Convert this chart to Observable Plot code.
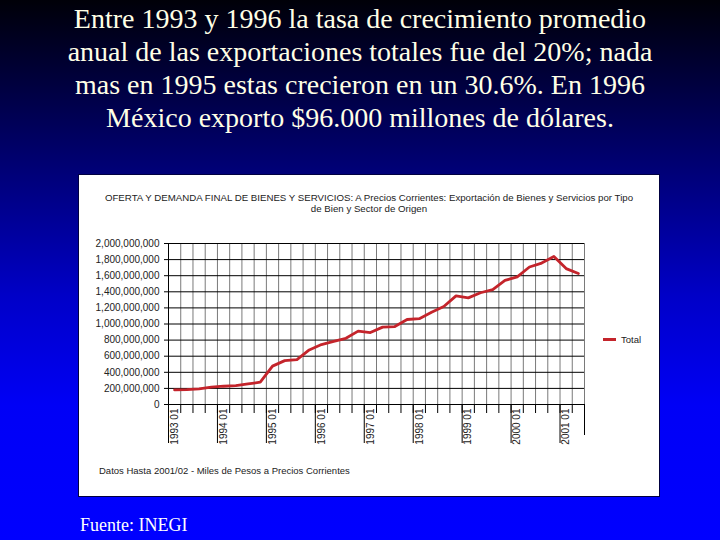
<!DOCTYPE html>
<html>
<head>
<meta charset="utf-8">
<script src="https://cdn.jsdelivr.net/npm/d3@7"></script>
<script src="https://cdn.jsdelivr.net/npm/@observablehq/plot@0.6"></script>
<style>
  html, body { margin: 0; padding: 0; }
  body {
    width: 720px; height: 540px; overflow: hidden; position: relative;
    background: linear-gradient(to bottom, #000008 0%, #00006a 28%, #0000c8 55%, #0000f6 75%, #0000ff 100%);
  }
  #title {
    position: absolute; left: 0; top: 2px; width: 720px; text-align: center;
    font-family: "Liberation Serif", "Times New Roman", serif; font-size: 28px; line-height: 33px;
    color: #ffffe6;
  }
  #box {
    position: absolute; left: 78px; top: 174px; width: 580px; height: 321px;
    background: #fff; border: 1px solid #000040;
  }
  .small { font-family: "Liberation Sans", Arial, sans-serif; color: #222; position: absolute; }
  #ctitle { left: 78px; width: 582px; top: 192px; text-align: center; font-size: 9.7px; line-height: 11px; }
  #note { left: 99px; top: 465px; font-size: 9.5px; }
  #legend { left: 603px; top: 334px; font-size: 9.5px; display: flex; align-items: center; }
  #legend span.sw { display: inline-block; width: 13px; height: 2.5px; background: #c4242b; margin-right: 5px; }
  #chart { position: absolute; left: 78px; top: 230px; }
  #fuente {
    position: absolute; left: 80px; top: 515px;
    font-family: "Liberation Serif", "Times New Roman", serif; font-size: 18px; color: #fff;
  }
</style>
</head>
<body>
<div id="title">Entre 1993 y 1996 la tasa de crecimiento promedio<br>anual de las exportaciones totales fue del 20%; nada<br>mas en 1995 estas crecieron en un 30.6%. En 1996<br>México exporto $96.000 millones de dólares.</div>
<div id="box"></div>
<div id="ctitle" class="small">OFERTA Y DEMANDA FINAL DE BIENES Y SERVICIOS: A Precios Corrientes: Exportación de Bienes y Servicios por Tipo<br>de Bien y Sector de Origen</div>
<div id="chart"></div>
<div id="legend" class="small"><span class="sw"></span>Total</div>
<div id="note" class="small">Datos Hasta 2001/02 - Miles de Pesos a Precios Corrientes</div>
<div id="fuente">Fuente: INEGI</div>
<script>
const periods = [
  "1993 01","1993 02","1993 03","1993 04",
  "1994 01","1994 02","1994 03","1994 04",
  "1995 01","1995 02","1995 03","1995 04",
  "1996 01","1996 02","1996 03","1996 04",
  "1997 01","1997 02","1997 03","1997 04",
  "1998 01","1998 02","1998 03","1998 04",
  "1999 01","1999 02","1999 03","1999 04",
  "2000 01","2000 02","2000 03","2000 04",
  "2001 01","2001 02"
];
const totalMillions = [
  182, 186, 194, 215, 227, 235, 256, 277,
  477, 545, 558, 678, 745, 784, 822, 911,
  894, 961, 968, 1056, 1066, 1146, 1217, 1350,
  1325, 1388, 1428, 1541, 1586, 1708, 1757, 1838,
  1688, 1627
];
const xTickLabels = ["1993 01","1994 01","1995 01","1996 01","1997 01","1998 01","1999 01","2000 01","2001 01"];
const yTicks = [0, 200000000, 400000000, 600000000, 800000000, 1000000000, 1200000000, 1400000000, 1600000000, 1800000000, 2000000000];

const data = periods.map((p, i) => ({pos: i + 0.5, period: p, value: totalMillions[i] * 1e6}));
const boundaries = d3.range(0, periods.length + 1);
const labelPos = xTickLabels.map(l => periods.indexOf(l) + 0.5);
const yearBounds = xTickLabels.map(l => periods.indexOf(l));
const labelOf = new Map(data.map(d => [d.pos, d.period]));

const chart = Plot.plot({
  width: 582,
  height: 230,
  marginLeft: 90,
  marginRight: 76,
  marginTop: 13,
  marginBottom: 56,
  style: {fontFamily: "Liberation Sans, Arial, sans-serif", fontSize: "10px", color: "#222", background: "transparent"},
  x: {type: "linear", domain: [0, periods.length], axis: null, label: null},
  y: {domain: [0, 2000000000], axis: null, label: null},
  marks: [
    Plot.ruleX(boundaries, {stroke: "#7a7a7a", strokeWidth: 1}),
    Plot.ruleY(yTicks, {stroke: "#000", strokeWidth: 1}),
    Plot.ruleX([0], {stroke: "#000"}),
    Plot.axisY({ticks: yTicks, tickFormat: d3.format(","), tickSize: 4, tickPadding: 5, stroke: "#000", fill: "#222", label: null}),
    Plot.axisX({ticks: boundaries, tickSize: 9, tickFormat: () => "", stroke: "#000", label: null}),
    Plot.axisX({ticks: yearBounds, tickSize: 39, tickFormat: () => "", stroke: "#000", label: null}),
    Plot.axisX({ticks: [periods.length], tickSize: 31, tickFormat: () => "", stroke: "#000", label: null}),
    Plot.axisX({ticks: labelPos, tickSize: 0, tickPadding: 4, tickRotate: -90, tickFormat: d => labelOf.get(d), fill: "#222", label: null}),
    Plot.line(data, {x: "pos", y: "value", stroke: "#c4242b", strokeWidth: 2.8, strokeLinejoin: "round"})
  ]
});
document.getElementById("chart").appendChild(chart);
</script>
</body>
</html>
